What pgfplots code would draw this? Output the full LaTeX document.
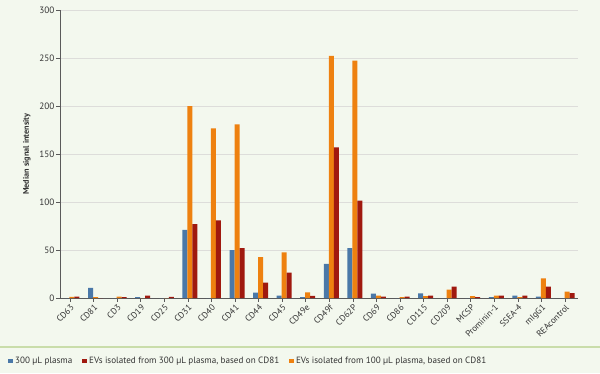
\documentclass[border=0pt]{standalone}
\usepackage{pgfplots}
\pgfplotsset{compat=1.18}
\usepackage{fontspec}
\setmainfont{PT Sans}
\definecolor{bg}{HTML}{F3F8EE}
\definecolor{cblue}{HTML}{4A78A8}
\definecolor{corange}{HTML}{EE8110}
\definecolor{cred}{HTML}{A0190F}
\definecolor{sepc}{HTML}{C9DDAA}
\definecolor{gridc}{HTML}{DDDDDA}
\definecolor{axisc}{HTML}{5A5A5A}
\definecolor{labelc}{HTML}{333333}

\pgfplotstableread{
idx blue orange red
0 0 1.2 1.5
1 10.5 1 0
2 0 1.5 1
3 1 0 2.5
4 0 0 1.3
5 71 200 77
6 0 177 81
7 50 181 52
8 5.5 42.5 16
9 2.5 47.5 26.5
10 1 5.8 2.3
11 35.5 252.5 157
12 52 247.5 101.5
13 4.5 2.4 1.5
14 0 1 1.5
15 4.9 2 2.4
16 0 8.7 11.8
17 0 2 1
18 1 2.4 2.4
19 2.4 1 2.4
20 1.4 20.5 11.8
21 0 6.6 5.2
}\datatable

\begin{document}
\begin{tikzpicture}[x=1pt,y=1pt]
\useasboundingbox (0,0) rectangle (600,373);
\fill[bg] (0,0) rectangle (600,373);
\draw[sepc, line width=1.2pt] (0,26) -- (600,26);
\begin{axis}[
  at={(60pt,75pt)}, anchor=south west,
  scale only axis, width=518pt, height=287.7pt,
  xmin=-0.424, xmax=21.55, ymin=0, ymax=300,
  ybar, bar width=5pt,
  axis lines*=left,
  axis line style={axisc, line width=0.8pt},
  tick align=outside, major tick length=3.5pt,
  tick style={axisc, line width=0.7pt},
  ytick={0,50,...,300},
  ymajorgrids, grid style={gridc, line width=0.8pt},
  xtick={0,...,21},
  xticklabels={CD63,CD81,CD3,CD19,CD25,CD31,CD40,CD41,CD44,CD45,CD49e,CD49f,CD62P,CD69,CD86,CD115,CD209,MCSP,Prominin-1,SSEA-4,mIgG1,REAcontrol},
  x tick label style={rotate=45, anchor=north east, font=\fontsize{8.8}{9}\selectfont, text=labelc, inner sep=1.5pt},
  y tick label style={font=\fontsize{9.2}{10}\selectfont, text=labelc, inner sep=2pt},
  /pgf/number format/assume math mode=true,
  ylabel={\bfseries Median signal intensity},
  ylabel style={at={(axis description cs:-0.064,0.5)}, anchor=center, font=\fontsize{8.2}{9}\selectfont, text=labelc},
  legend image code/.code={\fill[#1] (0pt,-2.4pt) rectangle (4.8pt,2.4pt);},
  legend style={at={(axis description cs:-0.106,-0.219)}, anchor=west, draw=none, fill=none,
    font=\fontsize{9.1}{10}\selectfont, text=labelc, legend columns=3,
    /tikz/every even column/.append style={column sep=8pt}},
]
\addplot[fill=cblue, draw=none, bar shift=-3pt, forget plot] table[x=idx, y=blue] {\datatable};
\addplot[fill=corange, draw=none, bar shift=2pt, forget plot] table[x=idx, y=orange] {\datatable};
\addplot[fill=cred, draw=none, bar shift=7pt, forget plot] table[x=idx, y=red] {\datatable};
\addlegendimage{fill=cblue, draw=none}
\addlegendentry{300 µL plasma}
\addlegendimage{fill=cred, draw=none}
\addlegendentry{EVs isolated from 300 µL plasma, based on CD81}
\addlegendimage{fill=corange, draw=none}
\addlegendentry{EVs isolated from 100 µL plasma, based on CD81}
\end{axis}
\end{tikzpicture}
\end{document}
